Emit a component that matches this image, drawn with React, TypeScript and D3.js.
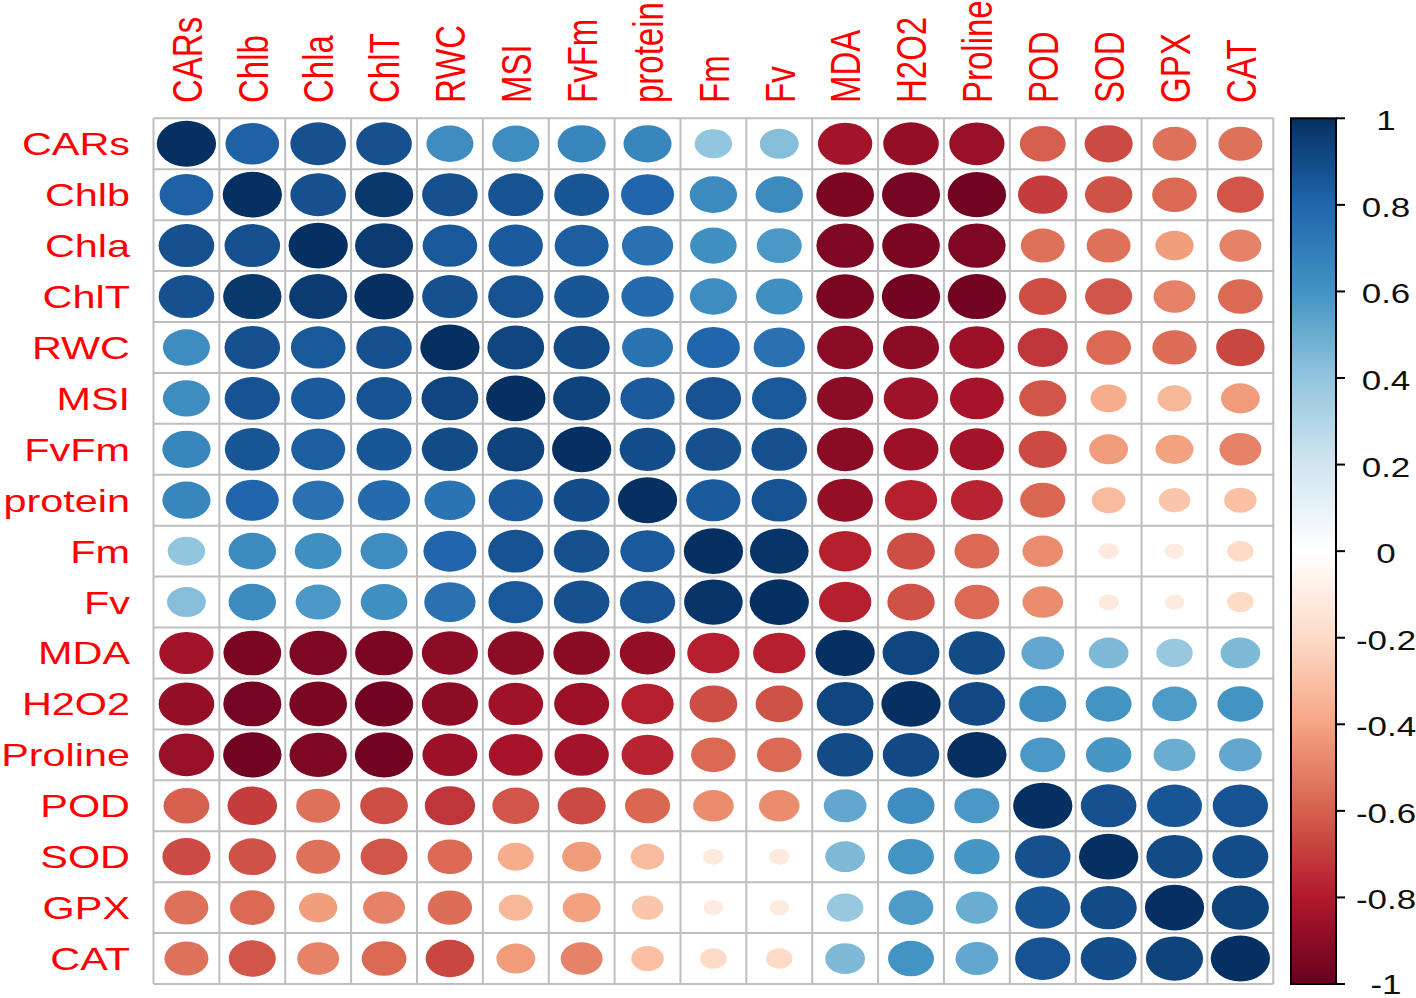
import React from 'react';
import * as d3 from 'd3';

const variables = ['CARs', 'Chlb', 'Chla', 'ChlT', 'RWC', 'MSI', 'FvFm', 'protein', 'Fm', 'Fv', 'MDA', 'H2O2', 'Proline', 'POD', 'SOD', 'GPX', 'CAT'];

// Upper triangle of the correlation matrix (row i, columns i+1..16)
const upperCARs = [0.82, 0.88, 0.88, 0.63, 0.63, 0.66, 0.66, 0.40, 0.43, -0.84, -0.88, -0.87, -0.60, -0.66, -0.55, -0.55];
const upperChlb = [0.88, 0.97, 0.88, 0.87, 0.86, 0.80, 0.64, 0.64, -0.95, -0.96, -0.97, -0.70, -0.64, -0.57, -0.63];
const upperChla = [0.96, 0.85, 0.84, 0.83, 0.75, 0.62, 0.58, -0.94, -0.95, -0.94, -0.55, -0.55, -0.42, -0.50];
const upperChlT = [0.88, 0.87, 0.86, 0.78, 0.63, 0.62, -0.95, -0.97, -0.97, -0.65, -0.63, -0.50, -0.57];
const upperRWC = [0.92, 0.90, 0.74, 0.80, 0.75, -0.90, -0.90, -0.86, -0.72, -0.57, -0.56, -0.67];
const upperMSI = [0.93, 0.84, 0.87, 0.85, -0.90, -0.85, -0.83, -0.63, -0.37, -0.33, -0.43];
const upperFvFm = [0.89, 0.88, 0.88, -0.91, -0.86, -0.84, -0.66, -0.43, -0.41, -0.50];
const upperProtein = [0.84, 0.87, -0.88, -0.78, -0.77, -0.58, -0.32, -0.28, -0.30];
const upperFm = [0.98, -0.78, -0.65, -0.57, -0.47, -0.12, -0.11, -0.20];
const upperFv = [-0.78, -0.64, -0.57, -0.47, -0.12, -0.11, -0.20];
const upperMDA = [0.92, 0.90, 0.52, 0.45, 0.38, 0.45];
const upperH2O2 = [0.91, 0.63, 0.60, 0.57, 0.60];
const upperProline = [0.58, 0.59, 0.50, 0.52];
const upperPOD = [0.88, 0.86, 0.87];
const upperSOD = [0.90, 0.89];
const upperGPX = [0.93];
const upperCAT: number[] = [];

const upperRows = [upperCARs, upperChlb, upperChla, upperChlT, upperRWC, upperMSI, upperFvFm, upperProtein, upperFm, upperFv, upperMDA, upperH2O2, upperProline, upperPOD, upperSOD, upperGPX, upperCAT];

const legendTicks = [1, 0.8, 0.6, 0.4, 0.2, 0, -0.2, -0.4, -0.6, -0.8, -1];
const legendTickLabels = ['1', '0.8', '0.6', '0.4', '0.2', '0', '-0.2', '-0.4', '-0.6', '-0.8', '-1'];

const palette = ['#67001F', '#B2182B', '#D6604D', '#F4A582', '#FDDBC7', '#FFFFFF', '#D1E5F0', '#92C5DE', '#4393C3', '#2166AC', '#053061'];

const W = 1416;
const H = 998;

function buildMatrix(): number[][] {
  const n = variables.length;
  const m: number[][] = [];
  for (let i = 0; i < n; i++) m.push(new Array(n).fill(1));
  for (let i = 0; i < n; i++) {
    upperRows[i].forEach((v, k) => {
      const j = i + 1 + k;
      m[i][j] = v;
      m[j][i] = v;
    });
  }
  return m;
}

export default function App() {
  const matrix = buildMatrix();
  const x = d3.scaleBand<string>().domain(variables).range([153.5, 1273.3]).padding(0);
  const y = d3.scaleBand<string>().domain(variables).range([118.3, 984]).padding(0);
  const bw = x.bandwidth();
  const bh = y.bandwidth();
  const SX = bw / bh;

  const color = d3
    .scaleLinear<string>()
    .domain(d3.range(11).map((i) => -1 + i * 0.2))
    .range(palette)
    .interpolate(d3.interpolateRgb);

  const legX = 1291;
  const legW = 45;
  const legScale = d3.scaleLinear().domain([-1, 1]).range([984, 118.3]);

  const gradStops = d3.range(0, 101).map((i) => {
    const v = 1 - i * 0.02;
    return { offset: `${i}%`, color: color(v) };
  });

  const font = "'Liberation Sans', Arial, Helvetica, sans-serif";

  const cells: React.ReactNode[] = [];
  variables.forEach((rv, i) => {
    variables.forEach((cv, j) => {
      const r = matrix[i][j];
      const s = 0.45 * Math.sqrt(Math.abs(r));
      cells.push(
        <ellipse
          key={`c-${i}-${j}`}
          cx={(x(cv) as number) + bw / 2}
          cy={(y(rv) as number) + bh / 2}
          rx={s * bw}
          ry={s * bh}
          fill={color(r)}
        />
      );
    });
  });

  const gridLines: React.ReactNode[] = [];
  for (let k = 0; k <= variables.length; k++) {
    const gx = 153.5 + k * bw;
    const gy = 118.3 + k * bh;
    gridLines.push(<line key={`v${k}`} x1={gx} x2={gx} y1={118.3} y2={984} stroke="#BEBEBE" strokeWidth={2} />);
    gridLines.push(<line key={`h${k}`} x1={153.5} x2={1273.3} y1={gy} y2={gy} stroke="#BEBEBE" strokeWidth={2} />);
  }

  return (
    <svg width={W} height={H} style={{ position: 'absolute', left: 0, top: 0, background: '#fff' }} fontFamily={font}>
      <defs>
        <linearGradient id="legendGrad" x1="0" y1="0" x2="0" y2="1">
          {gradStops.map((s, i) => (
            <stop key={i} offset={s.offset} stopColor={s.color} />
          ))}
        </linearGradient>
      </defs>
      <rect x={0} y={0} width={W} height={H} fill="#fff" />
      {gridLines}
      {cells}
      {variables.map((v) => (
        <text
          key={`rl-${v}`}
          transform={`translate(130, ${(y(v) as number) + bh / 2 + 11.5}) scale(${SX},1)`}
          textAnchor="end"
          fontSize={32}
          fill="#FF0000"
        >
          {v}
        </text>
      ))}
      {variables.map((v) => (
        <text
          key={`cl-${v}`}
          transform={`translate(${(x(v) as number) + bw / 2 + 15.3}, 103) scale(${SX},1) rotate(-90)`}
          textAnchor="start"
          fontSize={33}
          fill="#FF0000"
        >
          {v}
        </text>
      ))}
      <rect x={legX} y={118.3} width={legW} height={984 - 118.3} fill="url(#legendGrad)" stroke="#000" strokeWidth={2} />
      {legendTicks.map((t, i) => (
        <g key={`lt-${i}`}>
          <line x1={legX + legW} x2={legX + legW + 9} y1={legScale(t)} y2={legScale(t)} stroke="#000" strokeWidth={2} />
          <text
            transform={`translate(1386, ${Math.min(legScale(t) + 12, 994)}) scale(${SX},1)`}
            textAnchor="middle"
            fontSize={27}
            fill="#111"
          >
            {legendTickLabels[i]}
          </text>
        </g>
      ))}
    </svg>
  );
}
